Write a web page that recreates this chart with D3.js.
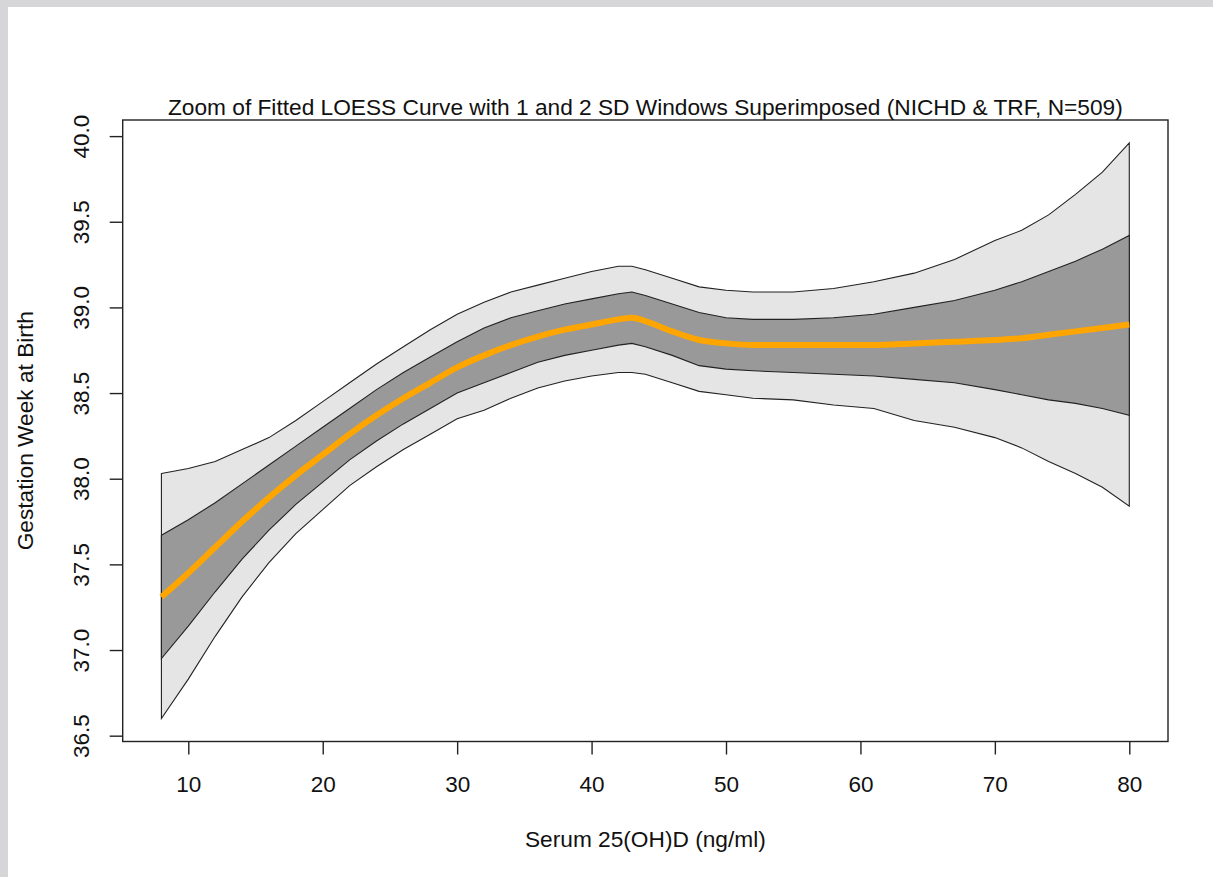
<!DOCTYPE html>
<html>
<head>
<meta charset="utf-8">
<script src="https://cdn.jsdelivr.net/npm/d3@7"></script>
<style>
  body { margin: 0; background: #ffffff; }
  svg { display: block; font-family: "Liberation Sans", Arial, sans-serif; }
</style>
</head>
<body>
<div id="chart-area"></div>
<script>
var serum = [8, 10, 12, 14, 16, 18, 20, 22, 24, 26, 28, 30, 32, 34, 36, 38, 40, 42, 43, 44,
             46, 48, 50, 52, 55, 58, 61, 64, 67, 70, 72, 74, 76, 78, 80];

// fitted LOESS curve
var fitted = [37.31, 37.45, 37.60, 37.75, 37.89, 38.02, 38.14, 38.26, 38.37, 38.47, 38.56, 38.65,
              38.72, 38.78, 38.83, 38.87, 38.90, 38.93, 38.94, 38.92, 38.86, 38.81, 38.79, 38.78,
              38.78, 38.78, 38.78, 38.79, 38.80, 38.81, 38.82, 38.84, 38.86, 38.88, 38.90];

// 1 SD window
var upper1 = [37.67, 37.76, 37.86, 37.97, 38.08, 38.19, 38.30, 38.41, 38.52, 38.62, 38.71, 38.80,
              38.88, 38.94, 38.98, 39.02, 39.05, 39.08, 39.09, 39.07, 39.02, 38.97, 38.94, 38.93,
              38.93, 38.94, 38.96, 39.00, 39.04, 39.10, 39.15, 39.21, 39.27, 39.34, 39.42];
var lower1 = [36.95, 37.14, 37.34, 37.53, 37.70, 37.85, 37.98, 38.11, 38.22, 38.32, 38.41, 38.50,
              38.56, 38.62, 38.68, 38.72, 38.75, 38.78, 38.79, 38.77, 38.72, 38.66, 38.64, 38.63,
              38.62, 38.61, 38.60, 38.58, 38.56, 38.52, 38.49, 38.46, 38.44, 38.41, 38.37];

// 2 SD window
var upper2 = [38.03, 38.06, 38.10, 38.17, 38.24, 38.34, 38.45, 38.56, 38.67, 38.77, 38.87, 38.96,
              39.03, 39.09, 39.13, 39.17, 39.21, 39.24, 39.24, 39.22, 39.17, 39.12, 39.10, 39.09,
              39.09, 39.11, 39.15, 39.20, 39.28, 39.39, 39.45, 39.54, 39.66, 39.79, 39.96];
var lower2 = [36.60, 36.83, 37.08, 37.31, 37.51, 37.68, 37.82, 37.96, 38.07, 38.17, 38.26, 38.35,
              38.40, 38.47, 38.53, 38.57, 38.60, 38.62, 38.62, 38.61, 38.56, 38.51, 38.49, 38.47,
              38.46, 38.43, 38.41, 38.34, 38.30, 38.24, 38.18, 38.10, 38.03, 37.95, 37.84];

var xTicks = [10, 20, 30, 40, 50, 60, 70, 80];
var yTicks = [36.5, 37.0, 37.5, 38.0, 38.5, 39.0, 39.5, 40.0];
var xDomain = [5.12, 82.88];
var yDomain = [36.466, 40.094];

var title = "Zoom of Fitted LOESS Curve with 1 and 2 SD Windows Superimposed (NICHD & TRF, N=509)";
var xTitle = "Serum 25(OH)D (ng/ml)";
var yTitle = "Gestation Week at Birth";

var W = 1213, H = 877;
var box = { left: 122.7, right: 1168, top: 120, bottom: 741.5 };

var svg = d3.select("#chart-area")
    .append("svg")
    .attr("width", W)
    .attr("height", H);

// grey frame around the page
svg.append("rect").attr("width", W).attr("height", H).attr("fill", "#d6d6d8");
svg.append("rect").attr("x", 8).attr("y", 7)
    .attr("width", W - 8).attr("height", H - 7).attr("fill", "#ffffff");

var x = d3.scaleLinear().domain(xDomain).range([box.left, box.right]);
var y = d3.scaleLinear().domain(yDomain).range([box.bottom, box.top]);

var pts = serum.map(function(s, i) {
    return { s: s, fit: fitted[i], u1: upper1[i], l1: lower1[i], u2: upper2[i], l2: lower2[i] };
});

// closed polygon between two bounds
function band(lo, hi) {
    var top = pts.map(function(d) { return [x(d.s), y(d[hi])]; });
    var bot = pts.slice().reverse().map(function(d) { return [x(d.s), y(d[lo])]; });
    return d3.line().curve(d3.curveLinear)(top.concat(bot)) + "Z";
}

svg.append("path")
    .attr("d", band("l2", "u2"))
    .attr("fill", "#e5e5e5")
    .attr("stroke", "#222")
    .attr("stroke-width", 1.1);

svg.append("path")
    .attr("d", band("l1", "u1"))
    .attr("fill", "#999999")
    .attr("stroke", "#222")
    .attr("stroke-width", 1.1);

var fitLine = d3.line()
    .curve(d3.curveMonotoneX)
    .x(function(d) { return x(d.s); })
    .y(function(d) { return y(d.fit); });

svg.append("path")
    .attr("d", fitLine(pts))
    .attr("fill", "none")
    .attr("stroke", "#ffa500")
    .attr("stroke-width", 6);

// plot box
svg.append("rect")
    .attr("x", box.left).attr("y", box.top)
    .attr("width", box.right - box.left).attr("height", box.bottom - box.top)
    .attr("fill", "none")
    .attr("stroke", "#222")
    .attr("stroke-width", 1.4);

// X-axis
var xAxis = svg.append("g")
    .attr("transform", "translate(0," + box.bottom + ")")
    .call(d3.axisBottom(x).tickValues(xTicks).tickSize(13).tickPadding(0));
xAxis.select(".domain").remove();
xAxis.selectAll("line").attr("stroke", "#222").attr("stroke-width", 1.4);
xAxis.selectAll("text")
    .attr("y", 50).attr("dy", 0)
    .attr("font-size", "22.5px")
    .attr("font-family", "Liberation Sans, Arial, sans-serif")
    .attr("fill", "#111");

// Y-axis
var yAxis = svg.append("g")
    .attr("transform", "translate(" + box.left + ",0)")
    .call(d3.axisLeft(y).tickValues(yTicks).tickSize(13).tickFormat(d3.format(".1f")));
yAxis.select(".domain").remove();
yAxis.selectAll("line").attr("stroke", "#222").attr("stroke-width", 1.4);
yAxis.selectAll("text")
    .attr("transform", "rotate(-90)")
    .attr("x", 0).attr("y", -33.7).attr("dy", 0)
    .attr("text-anchor", "middle")
    .attr("font-size", "22.5px")
    .attr("font-family", "Liberation Sans, Arial, sans-serif")
    .attr("fill", "#111");

// Titles
svg.append("text")
    .attr("x", (box.left + box.right) / 2)
    .attr("y", 115)
    .attr("text-anchor", "middle")
    .attr("font-size", "22.7px")
    .attr("fill", "#111")
    .text(title);

svg.append("text")
    .attr("x", (box.left + box.right) / 2)
    .attr("y", 847)
    .attr("text-anchor", "middle")
    .attr("font-size", "22.7px")
    .attr("fill", "#111")
    .text(xTitle);

svg.append("text")
    .attr("transform", "translate(33," + ((box.top + box.bottom) / 2) + ") rotate(-90)")
    .attr("text-anchor", "middle")
    .attr("font-size", "22.7px")
    .attr("fill", "#111")
    .text(yTitle);
</script>
</body>
</html>
